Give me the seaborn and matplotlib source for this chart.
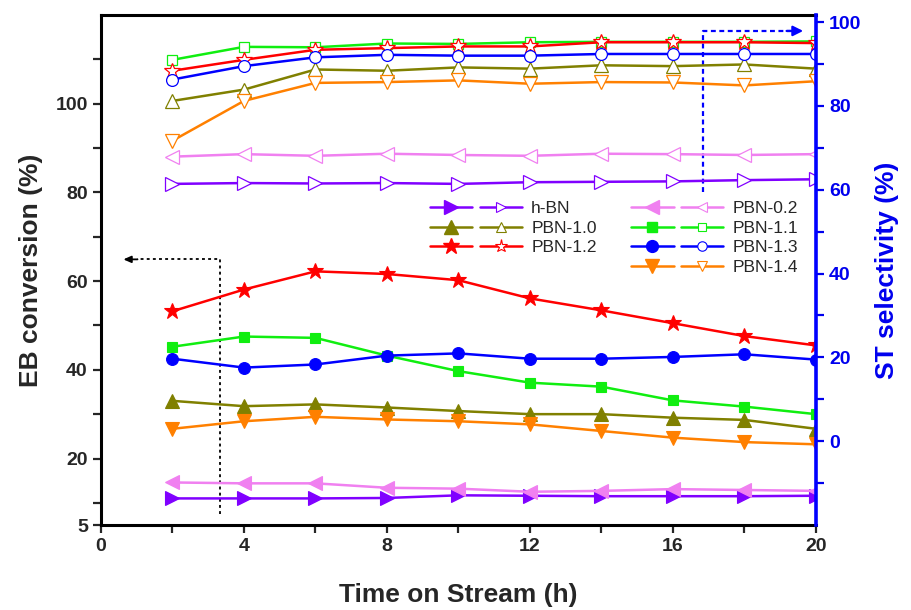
import matplotlib
matplotlib.use("Agg")
import matplotlib.pyplot as plt
from matplotlib.lines import Line2D
from matplotlib.legend_handler import HandlerTuple
from matplotlib.ticker import FixedLocator
import seaborn as sns

# time on stream (h)
time_h = [2, 4, 6, 8, 10, 12, 14, 16, 18, 20]

samples = ["h-BN", "PBN-0.2", "PBN-1.0", "PBN-1.1", "PBN-1.2", "PBN-1.3", "PBN-1.4"]

# EB conversion (%), left axis, filled symbols
hbn_conv = [11.0, 11.0, 11.0, 11.1, 11.7, 11.6, 11.5, 11.5, 11.5, 11.6]
pbn02_conv = [14.6, 14.4, 14.4, 13.4, 13.2, 12.5, 12.7, 13.1, 12.9, 12.7]
pbn10_conv = [33.0, 31.8, 32.2, 31.5, 30.7, 30.0, 30.0, 29.2, 28.7, 26.7]
pbn11_conv = [45.2, 47.5, 47.2, 43.2, 39.7, 37.1, 36.2, 33.1, 31.7, 30.0]
pbn12_conv = [53.2, 58.1, 62.2, 61.6, 60.2, 56.1, 53.4, 50.5, 47.6, 45.5]
pbn13_conv = [42.5, 40.5, 41.2, 43.2, 43.7, 42.5, 42.5, 42.9, 43.5, 42.3]
pbn14_conv = [26.7, 28.4, 29.4, 28.8, 28.4, 27.7, 26.2, 24.7, 23.7, 23.2]

# ST selectivity (%), right axis, open symbols
hbn_sel = [61.4, 61.6, 61.5, 61.6, 61.4, 61.8, 61.9, 62.0, 62.3, 62.5]
pbn02_sel = [67.9, 68.5, 68.1, 68.6, 68.3, 68.1, 68.6, 68.5, 68.3, 68.5]
pbn10_sel = [81.2, 83.9, 88.7, 88.4, 89.2, 88.9, 89.7, 89.5, 89.9, 88.9]
pbn11_sel = [91.0, 94.1, 94.0, 94.9, 94.8, 95.2, 95.3, 95.3, 95.3, 95.4]
pbn12_sel = [88.4, 91.0, 93.4, 93.8, 94.2, 94.2, 95.2, 95.2, 95.2, 95.0]
pbn13_sel = [86.3, 89.5, 91.6, 92.2, 92.0, 92.0, 92.4, 92.4, 92.4, 92.4]
pbn14_sel = [71.7, 81.2, 85.5, 85.7, 86.1, 85.3, 85.7, 85.6, 84.9, 85.9]

conv = dict(zip(samples, [hbn_conv, pbn02_conv, pbn10_conv, pbn11_conv,
                          pbn12_conv, pbn13_conv, pbn14_conv]))
sel = dict(zip(samples, [hbn_sel, pbn02_sel, pbn10_sel, pbn11_sel,
                         pbn12_sel, pbn13_sel, pbn14_sel]))

colors = {"h-BN": "#8000ff", "PBN-0.2": "#f080f0", "PBN-1.0": "#808000",
          "PBN-1.1": "#10ee10", "PBN-1.2": "#ff0000", "PBN-1.3": "#0000ff",
          "PBN-1.4": "#ff8000"}
markers = {"h-BN": ">", "PBN-0.2": "<", "PBN-1.0": "^", "PBN-1.1": "s",
           "PBN-1.2": "*", "PBN-1.3": "o", "PBN-1.4": "v"}
msizes = {">": 9.5, "<": 9.5, "^": 9.5, "s": 7.5, "*": 12, "o": 8.5, "v": 9.5}

blue = "#0000ee"

sns.set_style("ticks")
plt.rcParams['font.family'] = ['Liberation Sans', 'DejaVu Sans']

fig = plt.figure(figsize=(9.12, 6.10), dpi=100)
ax = fig.add_axes([0.1107, 0.1393, 0.7840, 0.8361])
ax2 = ax.twinx()

for name in samples:
    c = colors[name]
    m = markers[name]
    sns.lineplot(x=time_h, y=conv[name], ax=ax, color=c, marker=m,
                 markersize=msizes[m], markerfacecolor=c, markeredgecolor=c,
                 markeredgewidth=0.8, linewidth=1.8, errorbar=None, legend=False)
    sns.lineplot(x=time_h, y=sel[name], ax=ax2, color=c, marker=m,
                 markersize=msizes[m], markerfacecolor="white", markeredgecolor=c,
                 markeredgewidth=0.9, linewidth=1.8, errorbar=None, legend=False)

ax.set_xlim(0, 20)
ax.set_ylim(5, 120)
ax2.set_ylim(-20, 101.7)

ax.xaxis.set_major_locator(FixedLocator([0, 4, 8, 12, 16, 20]))
ax.xaxis.set_minor_locator(FixedLocator([2, 6, 10, 14, 18]))
ax.yaxis.set_major_locator(FixedLocator([5, 20, 40, 60, 80, 100]))
ax.yaxis.set_minor_locator(FixedLocator([10, 30, 50, 70, 90, 110]))
ax2.yaxis.set_major_locator(FixedLocator([0, 20, 40, 60, 80, 100]))
ax2.yaxis.set_minor_locator(FixedLocator([-10, 10, 30, 50, 70, 90]))

ax.tick_params(which="both", direction="out", length=6, width=1.6,
               labelsize=14, top=False, right=False)
ax2.tick_params(axis="y", which="both", direction="out", length=6, width=1.6,
                labelsize=14, colors=blue)
for lab in ax.get_xticklabels() + ax.get_yticklabels() + ax2.get_yticklabels():
    lab.set_fontweight("bold")

for sp in ["left", "bottom", "top"]:
    ax.spines[sp].set_linewidth(2.2)
    ax.spines[sp].set_color("black")
ax.spines["right"].set_visible(False)
for sp in ["left", "bottom", "top"]:
    ax2.spines[sp].set_visible(False)
ax2.spines["right"].set_color("#0000ff")
ax2.spines["right"].set_linewidth(2.6)

ax.set_xlabel("Time on Stream (h)", fontsize=19, fontweight="bold", labelpad=20)
ax.set_ylabel("EB conversion (%)", fontsize=19, fontweight="bold", labelpad=9)
ax2.set_ylabel("ST selectivity (%)", fontsize=19, fontweight="bold",
               color=blue, labelpad=10)

# guide arrows: black -> left axis, blue -> right axis
ax.plot([3.33, 3.33, 1.0], [7.4, 64.9, 64.9], color="black", lw=1.3,
        ls=(0, (1.6, 1.8)), zorder=1)
ax.annotate("", xy=(0.55, 64.9), xytext=(1.1, 64.9),
            arrowprops=dict(arrowstyle="-|>,head_length=0.45,head_width=0.2",
                            color="black", lw=1.3))
ax2.plot([16.84, 16.84, 19.3], [59.4, 97.9, 97.9], color="#0000ff", lw=1.6,
         ls=(0, (2.2, 1.6)), zorder=1)
ax2.annotate("", xy=(19.72, 97.9), xytext=(19.1, 97.9),
             arrowprops=dict(arrowstyle="-|>,head_length=0.6,head_width=0.3",
                             color="#0000ff", lw=1.6))

# legend: filled + open symbol per sample, two columns
def pair(name):
    c = colors[name]
    m = markers[name]
    filled = Line2D([], [], color=c, lw=1.8, marker=m, markersize=msizes[m],
                    markerfacecolor=c, markeredgecolor=c)
    hollow = Line2D([], [], color=c, lw=1.8, marker=m, markersize=msizes[m] * 0.8,
                    markerfacecolor="white", markeredgecolor=c, markeredgewidth=0.8)
    return (filled, hollow)

blank = Line2D([], [], linestyle="none")
order = ["h-BN", "PBN-1.0", "PBN-1.2", None, "PBN-0.2", "PBN-1.1", "PBN-1.3", "PBN-1.4"]
handles = [pair(n) if n else blank for n in order]
labels = [n if n else "" for n in order]
ax2.legend(handles, labels, ncol=2, loc="upper left", bbox_to_anchor=(0.45, 0.649),
           borderaxespad=0, frameon=False, fontsize=12.5, handlelength=5.3,
           handletextpad=0.55, columnspacing=2.0, labelspacing=0.25,
           handler_map={tuple: HandlerTuple(ndivide=None, pad=0.45)})

fig.savefig("out.png", dpi=100)
